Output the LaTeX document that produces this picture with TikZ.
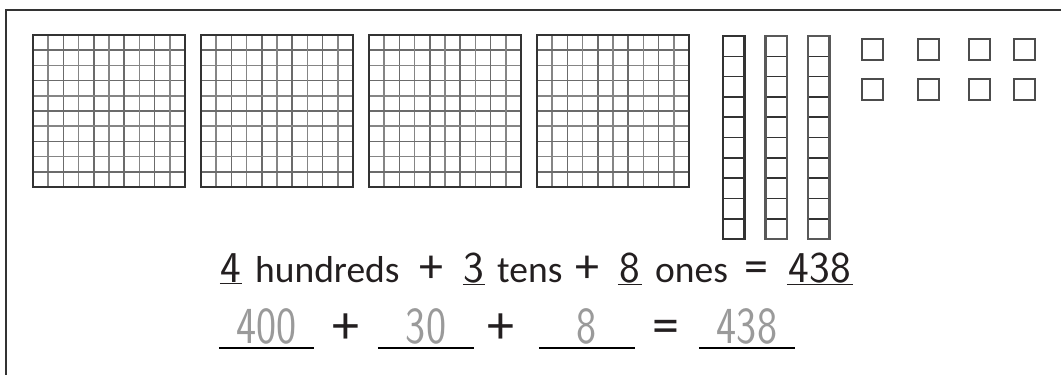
\documentclass[tikz,border=0pt]{standalone}
\usepackage{fontspec}
\setmainfont{Carlito}
\usepackage{tikz}
\usepackage{xcolor}
\usetikzlibrary{calc}

\definecolor{inkdark}{HTML}{231F20}
\definecolor{blockdark}{HTML}{333333}
\definecolor{answergray}{HTML}{9A9A9A}

\begin{document}
\begin{tikzpicture}[x=1pt,y=-1pt]
    % Styles for blocks and text
    \tikzset{
      frameline/.style={draw=blockdark, line width=2pt},
      blockline/.style={draw=blockdark, line width=2.5pt},
      gridlight/.style={draw=black!48, line width=1.7pt},
      griddark/.style={draw=black!58, line width=1.6pt},
      onebox/.style={draw=black!70, line width=2.2pt},
      word/.style={inkdark, inner sep=0pt, anchor=base, font=\fontsize{37.5}{40}\selectfont},
      sign/.style={inkdark, inner sep=0pt, anchor=base, font=\fontsize{48}{52}\selectfont},
      digit/.style={inkdark, inner sep=0pt, inner ysep=1.5pt, anchor=base, font=\sffamily\fontsize{44}{48}\selectfont},
      answer/.style={answergray, inner sep=0pt, inner ysep=4pt, anchor=base, font=\sffamily\fontsize{52}{56}\selectfont},
      thinline/.style={inkdark, line width=1.3pt},
      thickline/.style={black, line width=2.8pt}
    }
    \useasboundingbox (0,0) rectangle (1061,375);

    % Outer frame (only top and left show)
    \draw[frameline] (6,380) -- (6,10) -- (1066,10);

    % Hundreds
    \foreach \i in {0,...,3}{
      \begin{scope}[shift={(33+168*\i,35)}]
        \foreach \k in {1,3,5,7,9}{
          \draw[gridlight] (\k*15.2,0) -- (\k*15.2,152);
          \draw[griddark] (0,\k*15.2) -- (152,\k*15.2);
        }
        \foreach \k in {2,4,6,8}{
          \draw[griddark] (\k*15.2,0) -- (\k*15.2,152);
          \draw[gridlight] (0,\k*15.2) -- (152,\k*15.2);
        }
        \draw[blockline] (0,0) rectangle (152,152);
      \end{scope}
    }

    % Tens
    \foreach \x/\c in {723/blockdark, 765.5/black!65, 808/black!65}{
      \foreach \k in {1,...,9}
        \draw[draw=blockdark, line width=1.6pt] (\x,36+\k*20.3) -- (\x+21.5,36+\k*20.3);
      \draw[draw=\c, line width=2.2pt] (\x,36) rectangle (\x+21.5,239);
    }

    % Ones
    \foreach \x in {862,918,969,1014}
      \foreach \y in {39,79}
        \draw[onebox] (\x,\y) rectangle (\x+21,\y+21);

    % First line
    \node[digit, minimum width=22pt] (hun) at (231,282) {4};
    \node[word, anchor=base west] (hunword) at (255,282) {hundreds};
    \node[sign] (plusA) at (431,282) {+};
    \node[digit, minimum width=22pt] (ten) at (474,282) {3};
    \node[word, anchor=base west] (tenword) at (497,282) {tens};
    \node[sign] (plusB) at (587,282) {+};
    \node[digit, minimum width=24pt] (one) at (630,282) {8};
    \node[word, anchor=base west] (oneword) at (655,282) {ones};
    \node[sign] (eqA) at (756,282) {=};
    \node[digit, minimum width=66pt] (total) at (820,282) {438};
    \foreach \n in {hun,ten,one,total}
      \draw[thinline] (\n.south west) -- (\n.south east);

    % Second line
    \node[answer, minimum width=95pt] (hunval) at (266.5,343) {\scalebox{0.82}[1]{400}};
    \node[sign, font=\fontsize{54}{58}\selectfont] (plusC) at (346,343) {+};
    \node[answer, minimum width=96pt] (tenval) at (426,343) {\scalebox{0.82}[1]{30}};
    \node[sign, font=\fontsize{54}{58}\selectfont] (plusD) at (501,343) {+};
    \node[answer, minimum width=96pt] (oneval) at (587,343) {\scalebox{0.82}[1]{8}};
    \node[sign, font=\fontsize{54}{58}\selectfont] (eqB) at (666,343) {=};
    \node[answer, minimum width=96pt] (totalval) at (747,343) {\scalebox{0.82}[1]{438}};
    \foreach \n in {hunval,tenval,oneval,totalval}
      \draw[thickline] (\n.south west) -- (\n.south east);

\end{tikzpicture}
\end{document}
